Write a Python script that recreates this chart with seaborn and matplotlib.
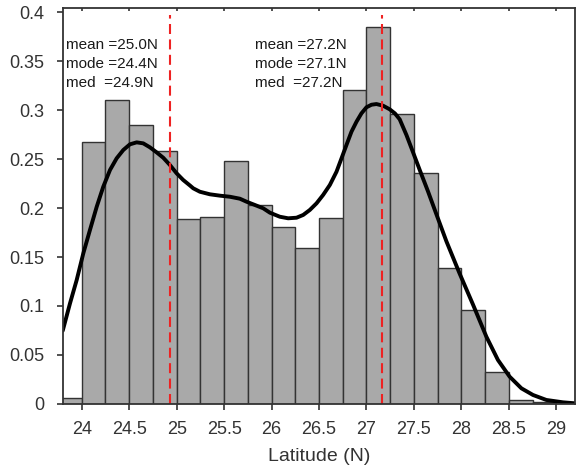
import numpy as np
import pandas as pd
import matplotlib
matplotlib.use("Agg")
import matplotlib.pyplot as plt
import seaborn as sns

# Histogram bins (density)
bin_edges = [23.75, 24.0, 24.25, 24.5, 24.75, 25.0, 25.25, 25.5, 25.75, 26.0, 26.25,
             26.5, 26.75, 27.0, 27.25, 27.5, 27.75, 28.0, 28.25, 28.5, 28.75, 29.0]
bin_heights = [0.0061, 0.267, 0.3105, 0.2843, 0.2585, 0.1885, 0.1908, 0.2476, 0.2027,
               0.1803, 0.1589, 0.1901, 0.320, 0.3844, 0.2959, 0.2354, 0.1391, 0.0956,
               0.0323, 0.0044, 0.0017]

# Smoothed density curve
curve_x = [23.8, 23.877, 23.947, 24.017, 24.087, 24.158, 24.227, 24.298, 24.368,
           24.438, 24.508, 24.579, 24.648, 24.719, 24.789, 24.859, 24.929, 25.0,
           25.069, 25.14, 25.175, 25.245, 25.35, 25.456, 25.561, 25.666, 25.737,
           25.824, 25.912, 25.983, 26.087, 26.175, 26.263, 26.333, 26.403, 26.474,
           26.543, 26.614, 26.684, 26.737, 26.789, 26.842, 26.895, 26.947, 27.0,
           27.053, 27.105, 27.175, 27.245, 27.3, 27.35, 27.421, 27.49, 27.561, 27.648,
           27.737, 27.842, 27.98, 28.122, 28.263, 28.385, 28.508, 28.632, 28.754,
           28.895, 29.07, 29.196]
curve_y = [0.0748, 0.1028, 0.1265, 0.1538, 0.1776, 0.2013, 0.2217, 0.2388, 0.2507,
           0.2592, 0.265, 0.267, 0.266, 0.2619, 0.2568, 0.2513, 0.2439, 0.2354,
           0.2286, 0.2230, 0.2201, 0.2166, 0.214, 0.2126, 0.2115, 0.2095, 0.2064,
           0.2031, 0.1997, 0.1952, 0.1911, 0.1895, 0.1901, 0.1929, 0.198, 0.2048,
           0.2133, 0.2235, 0.237, 0.2507, 0.2643, 0.2779, 0.2881, 0.2966, 0.3028,
           0.3054, 0.3061, 0.3044, 0.3007, 0.2965, 0.2905, 0.2745, 0.2570, 0.2388,
           0.2170, 0.1935, 0.1660, 0.1334, 0.1015, 0.0687, 0.0449, 0.0279, 0.016,
           0.0092, 0.0041, 0.0017, 0.0007]

# Reference lines
vlines = [24.93, 27.165]

# Annotation texts
left_text = ["mean =25.0N", "mode =24.4N", "med  =24.9N"]
right_text = ["mean =27.2N", "mode =27.1N", "med  =27.2N"]

x_ticks = [24, 24.5, 25, 25.5, 26, 26.5, 27, 27.5, 28, 28.5, 29]
x_tick_labels = ["24", "24.5", "25", "25.5", "26", "26.5", "27", "27.5", "28", "28.5", "29"]
y_ticks = [0, 0.05, 0.1, 0.15, 0.2, 0.25, 0.3, 0.35, 0.4]
y_tick_labels = ["0", "0.05", "0.1", "0.15", "0.2", "0.25", "0.3", "0.35", "0.4"]

sns.set_theme(style="white")
plt.rcParams["font.family"] = ["Liberation Sans", "DejaVu Sans"]

fig = plt.figure(figsize=(5.76, 4.72), dpi=100)
ax = fig.add_axes([0.1089, 0.1441, 0.8899, 0.8383])

centers = [(a + b) / 2 for a, b in zip(bin_edges[:-1], bin_edges[1:])]
hist_df = pd.DataFrame({"lat": centers, "w": bin_heights})
sns.histplot(data=hist_df, x="lat", weights="w", bins=bin_edges, stat="count",
             color="#a9a9a9", edgecolor="#333333", linewidth=1.0, alpha=1.0, ax=ax)

curve_df = pd.DataFrame({"x": curve_x, "y": curve_y})
sns.lineplot(data=curve_df, x="x", y="y", color="black", linewidth=2.8, ax=ax,
             sort=False)
for line in ax.get_lines():
    line.set_solid_joinstyle("round")
    line.set_solid_capstyle("round")

for v in vlines:
    ax.axvline(v, ymin=0, ymax=0.983, color="#ee2222", linestyle=(0, (4.8, 2.6)),
               linewidth=1.5)

for i, t in enumerate(left_text):
    ax.text(23.835, 0.3665 - i * 0.0193, t, fontsize=11, color="#1a1a1a",
            va="center", ha="left")
for i, t in enumerate(right_text):
    ax.text(25.83, 0.3665 - i * 0.0193, t, fontsize=11, color="#1a1a1a",
            va="center", ha="left")

ax.set_xlim(23.8, 29.2)
ax.set_ylim(0, 0.4038)
ax.set_xticks(x_ticks)
ax.set_xticklabels(x_tick_labels)
ax.set_yticks(y_ticks)
ax.set_yticklabels(y_tick_labels)
ax.set_xlabel("Latitude (N)", fontsize=14, color="#333333", labelpad=7)
ax.set_ylabel("")

ax.tick_params(axis="x", which="major", direction="out", length=4.5, width=1.2,
               color="#333333", labelsize=13, labelcolor="#333333", pad=8,
               bottom=True, top=False)
ax.tick_params(axis="y", which="major", direction="out", length=4.5, width=1.2,
               color="#333333", labelsize=13, labelcolor="#333333", pad=9,
               left=True, right=False)

# top ticks (inward, short)
sec = ax.secondary_xaxis("top")
sec.set_xticks(x_ticks)
sec.set_xticklabels([])
sec.tick_params(direction="in", length=2.5, width=1.2, color="#333333")
sec.spines["top"].set_visible(False)

for s in ax.spines.values():
    s.set_color("#333333")
    s.set_linewidth(1.3)
    s.set_visible(True)

fig.savefig("out.png", dpi=100)
